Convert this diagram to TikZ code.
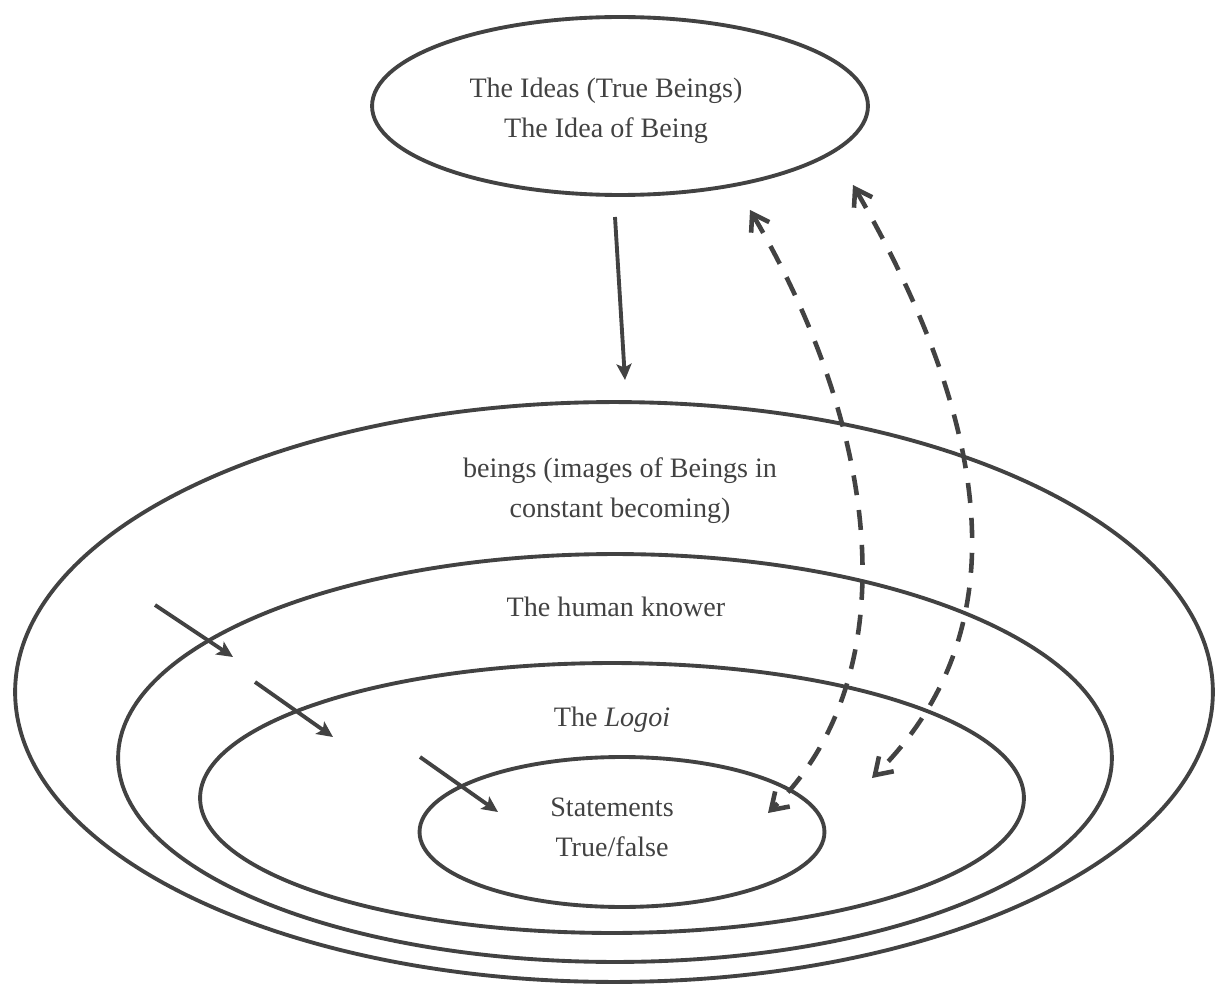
\documentclass[tikz,border=0pt]{standalone}
\usepackage{fontspec}
\setmainfont{Liberation Serif}
\usetikzlibrary{shapes.geometric, arrows.meta}
\definecolor{inkGray}{gray}{0.26}
\begin{document}
\begin{tikzpicture}[x=0.02cm, y=-0.02cm,
    platoOval/.style={draw=inkGray, ellipse, line width=2.2pt, inner sep=0pt},
    platoText/.style={text=inkGray, align=center, inner sep=0pt, font=\fontsize{16}{22.8}\selectfont},
    platoArrow/.style={-{Stealth[length=0.32cm, width=0.3cm, inset=0.07cm]}, draw=inkGray, line width=2.2pt},
    platoDash/.style={{Straight Barb[length=0.32cm, width=0.42cm]}-{Straight Barb[length=0.32cm, width=0.42cm]}, draw=inkGray, line width=2.6pt, dash pattern=on 0.4cm off 0.3cm}]

    \useasboundingbox (0,0) rectangle (1215,990);

    \node[platoOval, minimum width=9.92cm, minimum height=3.56cm] (ideas) at (620,106) {};
    \node[platoOval, minimum width=23.96cm, minimum height=11.6cm] (beings) at (614,692) {};
    \node[platoOval, minimum width=19.88cm, minimum height=8.16cm] (knower) at (615,758) {};
    \node[platoOval, minimum width=16.48cm, minimum height=5.4cm] (logoi) at (612,798) {};
    \node[platoOval, minimum width=8.1cm, minimum height=3cm] (stmts) at (622,832) {};

    \node[platoText] (ideasTxt) at (606,111) {The Ideas (True Beings)\\The Idea of Being};
    \node[platoText] (beingsTxt) at (620,491) {beings (images of Beings in\\constant becoming)};
    \node[platoText] (knowerTxt) at (616,607) {The human knower};
    \node[platoText] (logoiTxt) at (612,720) {The \textit{Logoi}};
    \node[platoText] (stmtsTxt) at (612,827) {Statements\\True/false};

    \coordinate (downTop) at (615,217);
    \coordinate (downEnd) at (625,380);
    \coordinate (inA) at (155,605);
    \coordinate (inAEnd) at (233,657);
    \coordinate (inB) at (255,682);
    \coordinate (inBEnd) at (333,737);
    \coordinate (inC) at (420,757);
    \coordinate (inCEnd) at (498,812);
    \coordinate (dashATop) at (750,210);
    \coordinate (dashABot) at (768,813);
    \coordinate (dashBTop) at (853,185);
    \coordinate (dashBBot) at (872,778);

    \draw[platoArrow] (downTop) -- (downEnd);
    \draw[platoArrow] (inA) -- (inAEnd);
    \draw[platoArrow] (inB) -- (inBEnd);
    \draw[platoArrow] (inC) -- (inCEnd);

    \draw[platoDash] (dashATop) .. controls (885,440) and (905,680) .. (dashABot);
    \draw[platoDash] (dashBTop) .. controls (983,410) and (1028,624) .. (dashBBot);
\end{tikzpicture}
\end{document}
